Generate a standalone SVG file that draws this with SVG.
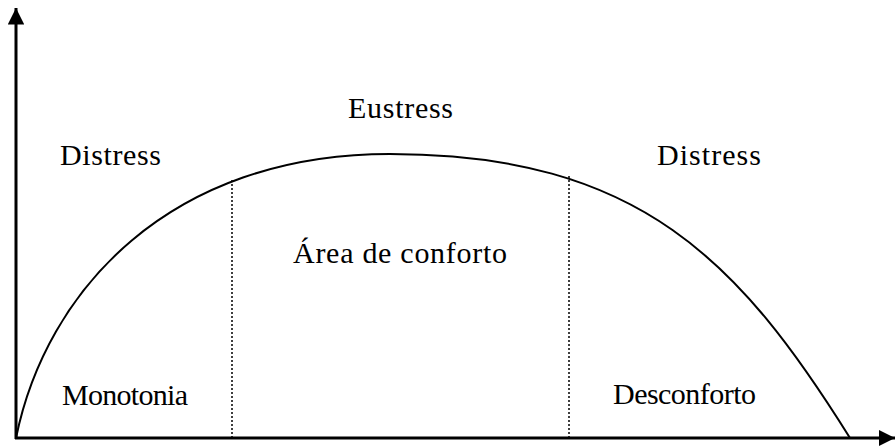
<svg xmlns="http://www.w3.org/2000/svg" width="895" height="447" viewBox="0 0 895 447">
<style>
text{font-family:"Liberation Serif","Times New Roman",serif;font-size:30px;fill:#000}
.ax{stroke:#000;stroke-width:3;fill:none}
.cv{stroke:#000;stroke-width:2;fill:none}
.dt{stroke:#000;stroke-width:1.5;stroke-dasharray:2 2;fill:none}
</style>
<defs>
<marker id="ah" viewBox="0 0 10 10" refX="10" refY="5" markerWidth="5.5" markerHeight="5.5" orient="auto" markerUnits="strokeWidth">
<path d="M0,0L10,5L0,10z" fill="#000"/>
</marker>
</defs>
<g id="connectors">
<path class="ax" d="M16,439V8" marker-end="url(#ah)"/>
<path class="ax" d="M15,438H895" marker-end="url(#ah)"/>
<path id="curve" class="cv" d="M16,438C46,290 170,154 390,154C640,154 740,262 850,438"/>
<path class="dt" d="M232,180V438M569,176V438"/>
</g>
<g id="eustress"><text x="348" y="118" textLength="105" lengthAdjust="spacing">Eustress</text></g>
<g id="distress-left"><text x="60" y="165" textLength="101" lengthAdjust="spacing">Distress</text></g>
<g id="distress-right"><text x="657" y="165" textLength="104" lengthAdjust="spacing">Distress</text></g>
<g id="area-conforto"><text x="293" y="263" textLength="214" lengthAdjust="spacing">Área de conforto</text></g>
<g id="monotonia"><text x="62" y="405" textLength="126" lengthAdjust="spacing">Monotonia</text></g>
<g id="desconforto"><text x="613" y="404" textLength="143" lengthAdjust="spacing">Desconforto</text></g>
</svg>
